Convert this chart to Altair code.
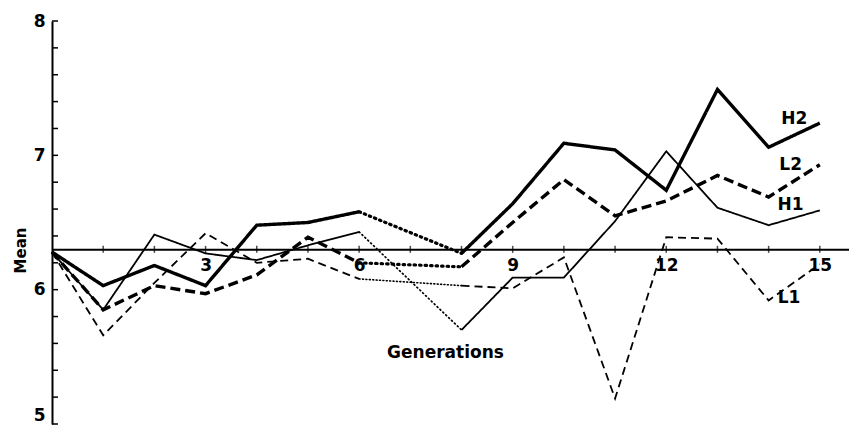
import altair as alt
import pandas as pd

# Mean score per generation for the four selection lines (generation 7 not scored)
generations = list(range(16))
h2 = [6.28, 6.03, 6.18, 6.03, 6.48, 6.50, 6.58, None, 6.27, 6.64, 7.09, 7.04, 6.74, 7.49, 7.06, 7.24]
l2 = [6.28, 5.85, 6.03, 5.97, 6.11, 6.39, 6.20, None, 6.17, 6.50, 6.82, 6.55, 6.66, 6.85, 6.69, 6.93]
h1 = [6.28, 5.85, 6.41, 6.27, 6.22, 6.33, 6.43, None, 5.70, 6.09, 6.09, 6.51, 7.03, 6.61, 6.48, 6.59]
l1 = [6.28, 5.66, 6.05, 6.42, 6.20, 6.23, 6.08, None, 6.03, 6.01, 6.24, 5.19, 6.39, 6.38, 5.92, 6.19]
series_names = ["H2", "L2", "H1", "L1"]

# Base-population mean, where the generation axis is drawn
base_mean = 6.3

# Tick values
x_label_values = [3, 6, 9, 12, 15]
x_tick_values = [1, 2, 3, 4, 5, 6, 7, 8, 9, 10, 11, 12, 13, 14, 15]
y_label_values = [5, 6, 7, 8]
y_tick_values = [5.0, 5.2, 5.4, 5.6, 5.8, 6.0, 6.2, 6.4, 6.6, 6.8, 7.0,
                 7.2, 7.4, 7.6, 7.8, 8.0]

# Where the line names sit
label_gen = [14.5, 14.43, 14.43, 14.4]
label_mean = [7.27, 6.93, 6.63, 5.94]

W, H = 797, 403
X_MAX = 15.57
Y_MIN, Y_MAX = 5, 8
FONT = "DejaVu Sans"

# Line styles: (width, dash) for the scored runs and for the dotted bridge
styles = {
    "H2": {"w": 3.4, "dash": [1, 0], "bw": 3.2, "bdash": [1.5, 4]},
    "L2": {"w": 3.4, "dash": [10, 5], "bw": 3.2, "bdash": [1.5, 4]},
    "H1": {"w": 1.8, "dash": [1, 0], "bw": 1.7, "bdash": [1, 3]},
    "L1": {"w": 1.8, "dash": [8, 5], "bw": 1.6, "bdash": [1, 2.4]},
}

axis_offset = -H * (base_mean - Y_MIN) / (Y_MAX - Y_MIN)

x_scale = alt.Scale(domain=[0, X_MAX], nice=False, zero=False)
y_scale = alt.Scale(domain=[Y_MIN, Y_MAX], nice=False, zero=False)

x_enc = alt.X(
    "gen:Q", scale=x_scale,
    axis=alt.Axis(
        values=x_label_values, offset=axis_offset, ticks=False, grid=False,
        domainColor="black", domainWidth=2, labelFont=FONT, labelFontSize=17,
        labelColor="black", labelPadding=8, labelFontWeight="bold", format="d",
        title="Generations", titleFont=FONT, titleFontSize=17, titleFontWeight="bold",
        titleColor="black", titleX=393, titleY=103, titleAlign="center",
        titleBaseline="middle",
    ),
)
y_enc = alt.Y(
    "mean:Q", scale=y_scale,
    axis=alt.Axis(
        values=y_label_values, ticks=False, grid=False, domainColor="black",
        domainWidth=2, labelFont=FONT, labelFontSize=17, labelColor="black",
        labelPadding=7, labelFontWeight="bold", format="d",
        labelBaseline=alt.condition("datum.value == 5", alt.value("bottom"), alt.value("middle")),
        title="Mean", titleFont=FONT, titleFontSize=15, titleFontWeight="bold",
        titleColor="black", titleX=-32, titleY=229, titleAlign="center",
        titleBaseline="middle", titleAngle=270,
    ),
)

layers = []
first = True
for name, vals in zip(series_names, [h2, l2, h1, l1]):
    st = styles[name]
    for part, gens in (("early", range(0, 7)), ("late", range(8, 16))):
        df = pd.DataFrame({"gen": list(gens), "mean": [vals[g] for g in gens]})
        layers.append(
            alt.Chart(df).mark_line(
                color="black", strokeWidth=st["w"], strokeDash=st["dash"],
                strokeJoin="miter",
            ).encode(x=x_enc if first else "gen:Q", y=y_enc if first else "mean:Q")
        )
        first = False
    # dotted bridge over the unscored generation
    bdf = pd.DataFrame({"gen": [6, 8], "mean": [vals[6], vals[8]]})
    layers.append(
        alt.Chart(bdf).mark_line(
            color="black", strokeWidth=st["bw"], strokeDash=st["bdash"],
            strokeCap="round",
        ).encode(x="gen:Q", y="mean:Q")
    )

xticks_df = pd.DataFrame({"gen": x_tick_values, "mean": [base_mean] * len(x_tick_values)})
yticks_df = pd.DataFrame({"tick": y_tick_values})
labels_df = pd.DataFrame({"gen": label_gen, "mean": label_mean, "label": series_names})

x_ticks = alt.Chart(xticks_df).mark_tick(
    orient="vertical", color="black", size=7, thickness=1.5
).encode(x="gen:Q", y="mean:Q")

y_ticks = alt.Chart(yticks_df).mark_rule(color="black", strokeWidth=1.5).encode(
    x=alt.value(0), x2=alt.value(6), y=alt.Y("tick:Q")
)

labels = alt.Chart(labels_df).mark_text(
    font=FONT, fontSize=17, fontWeight="bold", color="black",
    align="center", baseline="middle",
).encode(x="gen:Q", y="mean:Q", text="label:N")

chart = (
    alt.layer(*layers, x_ticks, y_ticks, labels)
    .properties(
        width=W, height=H,
        autosize=alt.AutoSizeParams(type="none"),
        padding={"left": 52, "top": 21, "right": 0, "bottom": 4},
        background="white",
    )
    .configure_view(stroke=None)
)

chart.save("out.html", embed_options={"renderer": "svg", "actions": False})
